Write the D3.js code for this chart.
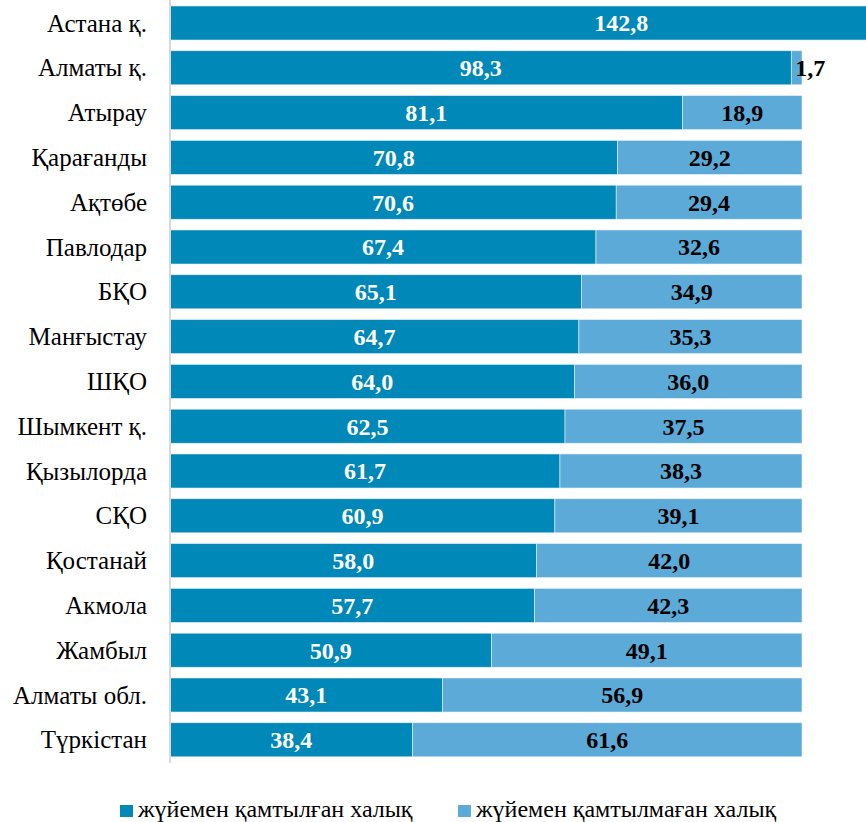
<!DOCTYPE html>
<html><head><meta charset="utf-8"><script src="https://cdn.jsdelivr.net/npm/d3@7"></script>
<style>
  svg text { font-family: "Liberation Serif", "Tinos", "Times New Roman" !important; }
</style>
</head>
<body style="margin:0">
<svg id="chart" width="866" height="822"></svg>
<script>
const categories = ["Астана қ.", "Алматы қ.", "Атырау", "Қарағанды", "Ақтөбе", "Павлодар", "БҚО", "Манғыстау", "ШҚО", "Шымкент қ.", "Қызылорда", "СҚО", "Қостанай", "Акмола", "Жамбыл", "Алматы обл.", "Түркістан"];
const covered = [142.8, 98.3, 81.1, 70.8, 70.6, 67.4, 65.1, 64.7, 64.0, 62.5, 61.7, 60.9, 58.0, 57.7, 50.9, 43.1, 38.4];
const uncovered = [0, 1.7, 18.9, 29.2, 29.4, 32.6, 34.9, 35.3, 36.0, 37.5, 38.3, 39.1, 42.0, 42.3, 49.1, 56.9, 61.6];
const seriesNames = ["жүйемен қамтылған халық", "жүйемен қамтылмаған халық"];
const colors = ["#0088b8", "#5caad8"];

const svg = d3.select("#chart");
const x = d3.scaleLinear().domain([0, 100]).range([170, 802]);
const y = d3.scaleBand().domain(categories).range([0.6, 762.2]).paddingInner(0.24).paddingOuter(0.12);

const fmt = v => v.toFixed(1).replace(".", ",");
const serif = (sel, size, weight) => sel
  .attr("font-family", "Liberation Serif")
  .attr("font-size", size)
  .attr("font-weight", weight)
  .style("font", `${weight} ${size}px "Liberation Serif", "Tinos", "Times New Roman"`, "important");

const rows = categories.map((c, i) => ({ cat: c, a: covered[i], b: uncovered[i] }));

svg.append("g").selectAll("rect").data(rows).join("rect")
  .attr("x", x(0))
  .attr("y", d => y(d.cat))
  .attr("width", d => x(d.a) - x(0))
  .attr("height", y.bandwidth())
  .attr("fill", colors[0])
  .attr("stroke", "#e6f2f8").attr("stroke-width", 0.6);

svg.append("g").selectAll("rect").data(rows.filter(d => d.b > 0)).join("rect")
  .attr("x", d => x(d.a))
  .attr("y", d => y(d.cat))
  .attr("width", d => x(d.a + d.b) - x(d.a))
  .attr("height", y.bandwidth())
  .attr("fill", colors[1])
  .attr("stroke", "#e6f2f8").attr("stroke-width", 0.6);

svg.append("line")
  .attr("x1", x(0)).attr("x2", x(0))
  .attr("y1", 0).attr("y2", 763)
  .attr("stroke", "#d9d9d9").attr("stroke-width", 2);

svg.append("g").selectAll("text").data(rows).join("text")
  .attr("x", d => (x(0) + x(d.a)) / 2)
  .attr("y", d => y(d.cat) + y.bandwidth() / 2 + 8.4)
  .attr("text-anchor", "middle")
  .attr("fill", "#fff")
  .call(serif, 24, "bold")
  .text(d => fmt(d.a));

svg.append("g").selectAll("text").data(rows.filter(d => d.b > 0)).join("text")
  .attr("x", d => d.b < 5 ? x(d.a) + 4 : (x(d.a) + x(d.a + d.b)) / 2)
  .attr("y", d => y(d.cat) + y.bandwidth() / 2 + 8.4)
  .attr("text-anchor", d => d.b < 5 ? "start" : "middle")
  .attr("fill", "#000")
  .call(serif, 24, "bold")
  .text(d => fmt(d.b));

svg.append("g").selectAll("text").data(categories).join("text")
  .attr("x", 147)
  .attr("y", d => y(d) + y.bandwidth() / 2 + 8.5)
  .attr("text-anchor", "end")
  .attr("fill", "#000")
  .call(serif, 25, "normal")
  .text(d => d);

const legendX = [120, 458];
const lg = svg.append("g").selectAll("g").data(seriesNames).join("g")
  .attr("transform", (d, i) => `translate(${legendX[i]}, 805)`);
lg.append("rect").attr("width", 13).attr("height", 12).attr("fill", (d, i) => colors[i]);
lg.append("text")
  .attr("x", 18).attr("y", 12)
  .attr("fill", "#000")
  .call(serif, 24, "normal")
  .text(d => d);
</script>
</body>
</html>
